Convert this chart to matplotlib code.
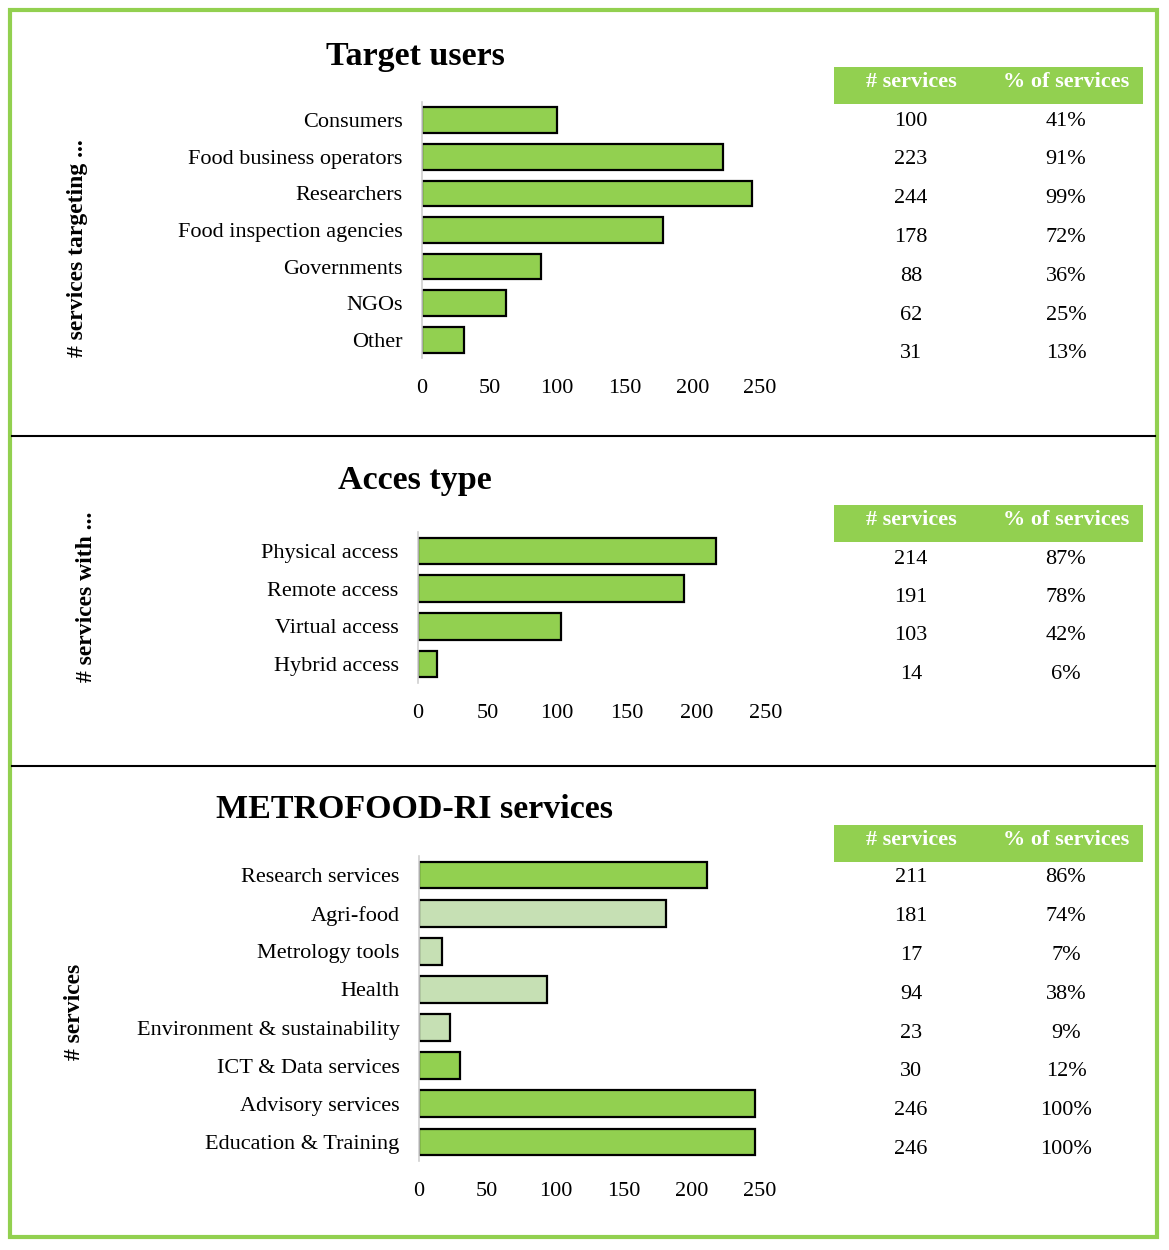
import matplotlib.pyplot as plt
from matplotlib.patches import Rectangle
from matplotlib.lines import Line2D

# data
users_cats = ["Consumers", "Food business operators", "Researchers", "Food inspection agencies",
              "Governments", "NGOs", "Other"]
users_n = [100, 223, 244, 178, 88, 62, 31]
users_pct = ["41%", "91%", "99%", "72%", "36%", "25%", "13%"]

access_cats = ["Physical access", "Remote access", "Virtual access", "Hybrid access"]
access_n = [214, 191, 103, 14]
access_pct = ["87%", "78%", "42%", "6%"]

serv_cats = ["Research services", "Agri-food", "Metrology tools", "Health",
             "Environment & sustainability", "ICT & Data services", "Advisory services",
             "Education & Training"]
serv_n = [211, 181, 17, 94, 23, 30, 246, 246]
serv_pct = ["86%", "74%", "7%", "38%", "9%", "12%", "100%", "100%"]
# research areas within research services (shown lighter)
research_areas = ["Agri-food", "Metrology tools", "Health", "Environment & sustainability"]

xticks = [0, 50, 100, 150, 200, 250]

GREEN = "#92D050"
LIGHT = "#C6E0B4"
W, H = 1169, 1250
FS = 16

plt.rcParams['font.family'] = ['Liberation Serif', 'DejaVu Serif']
fig = plt.figure(figsize=(W / 100, H / 100), dpi=100)


def px_axes(x0, y0, x1, y1):
    return fig.add_axes([x0 / W, 1 - y1 / H, (x1 - x0) / W, (y1 - y0) / H])


def fx(x):
    return x / W


def fy(y):
    return 1 - y / H


def bar_panel(box, cats, vals, colors, title, title_xy, ylab, ylab_xy):
    ax = px_axes(*box)
    ax.barh(range(len(cats)), vals, height=0.7, color=colors, edgecolor="black", linewidth=1.6)
    ax.set_ylim(len(cats) - 0.5, -0.5)
    ax.set_xlim(0, 250)
    ax.set_xticks(xticks)
    ax.set_yticks(range(len(cats)))
    ax.set_yticklabels(cats)
    ax.tick_params(axis="both", length=0, labelsize=FS)
    ax.tick_params(axis="x", pad=15)
    ax.tick_params(axis="y", pad=14)
    for lbl in ax.get_yticklabels():
        lbl.set_verticalalignment("center_baseline")
    for s in ["top", "right", "bottom"]:
        ax.spines[s].set_visible(False)
    ax.spines["left"].set_color("#d0d0d0")
    ax.spines["left"].set_linewidth(1.2)
    fig.text(fx(title_xy[0]), fy(title_xy[1]), title, fontsize=24.5, fontweight="bold",
             ha="center", va="center")
    fig.text(fx(ylab_xy[0]), fy(ylab_xy[1]), ylab, fontsize=17, fontweight="bold",
             rotation=90, ha="center", va="center")


def table_panel(head_y, row_y, step, nums, pcts):
    fig.patches.append(Rectangle((fx(834), fy(head_y + 37)), (1143 - 834) / W, 37 / H,
                                 transform=fig.transFigure, facecolor=GREEN, edgecolor="none"))
    fig.text(fx(911), fy(head_y + 15), "# services", color="white", fontsize=FS,
             fontweight="bold", ha="center", va="center")
    fig.text(fx(1066), fy(head_y + 15), "% of services", color="white", fontsize=FS,
             fontweight="bold", ha="center", va="center")
    for i, (n, p) in enumerate(zip(nums, pcts)):
        y = row_y + i * step + 2
        fig.text(fx(911), fy(y), str(n), fontsize=FS, ha="center", va="center")
        fig.text(fx(1066), fy(y), p, fontsize=FS, ha="center", va="center")


# Panel 1 - target users
bar_panel((422, 101.7, 760, 358.3), users_cats, users_n, GREEN,
          "Target users", (415, 56), "# services targeting ...", (78, 248))
table_panel(67, 119, 38.8, users_n, users_pct)

# Panel 2 - access type
bar_panel((418, 532.2, 766, 682.8), access_cats, access_n, GREEN,
          "Acces type", (415, 481), "# services with ...", (87, 597))
table_panel(505, 557, 38.5, access_n, access_pct)

# Panel 3 - services
serv_colors = [LIGHT if c in research_areas else GREEN for c in serv_cats]
bar_panel((419, 856, 760, 1161), serv_cats, serv_n, serv_colors,
          "METROFOOD-RI services", (414, 810), "# services", (75, 1012))
table_panel(825, 876, 38.8, serv_n, serv_pct)

# separators and frame
for y in [436, 766]:
    fig.add_artist(Line2D([fx(12), fx(1155)], [fy(y), fy(y)], color="black", linewidth=1.5))
fig.patches.append(Rectangle((fx(10), fy(1237)), (1157 - 10) / W, (1237 - 10) / H,
                             transform=fig.transFigure, facecolor="none", edgecolor=GREEN,
                             linewidth=3))

fig.savefig("out.png", dpi=100)
